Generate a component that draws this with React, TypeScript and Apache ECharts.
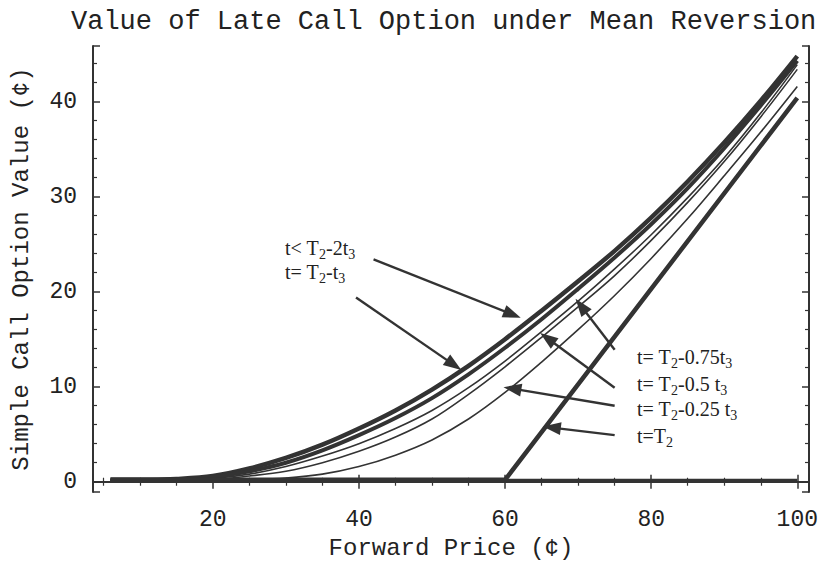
import React, { useEffect, useRef } from "react";
import * as echarts from "echarts";

// Forward price grid (¢) and option values (¢)
const forward = [6, 10, 15, 20, 25, 30, 35, 40, 45, 50, 55, 60, 65, 70, 75, 80, 85, 90, 95, 100];
const earlyValues = [0.2, 0.2, 0.3, 0.6, 1.4, 2.5, 3.9, 5.6, 7.5, 9.7, 12.2, 15.0, 18.0, 21.1, 24.3, 27.8, 31.6, 35.7, 40.1, 44.8];
const oneT3Values = [0.2, 0.2, 0.25, 0.5, 1.1, 2.0, 3.3, 4.9, 6.7, 8.8, 11.3, 14.1, 17.1, 20.3, 23.6, 27.1, 30.9, 35.1, 39.6, 44.3];
const p75Values = [0.2, 0.2, 0.2, 0.35, 0.8, 1.6, 2.7, 4.0, 5.6, 7.5, 9.9, 12.7, 15.8, 19.0, 22.4, 26.0, 29.9, 34.1, 38.8, 43.9];
const p50Values = [0.2, 0.2, 0.2, 0.25, 0.6, 1.1, 2.0, 3.2, 4.7, 6.6, 9.2, 12.1, 15.2, 18.4, 21.7, 25.4, 29.4, 33.7, 38.4, 43.4];
const p25Values = [0.2, 0.2, 0.2, 0.2, 0.25, 0.4, 0.8, 1.6, 2.8, 4.4, 6.6, 9.4, 12.6, 16.0, 19.6, 23.5, 27.7, 32.2, 36.8, 41.6];
const expiryForward = [6, 60, 100];
const expiryValues = [0.2, 0.2, 40.4];
const baselineForward = [6, 100];
const baselineValues = [0.2, 0.2];

// Annotation arrows: tail -> tip, in (forward, value)
const arrowFrom = [
  [42.0, 23.4],
  [39.6, 19.4],
  [75.0, 13.9],
  [75.0, 9.9],
  [75.0, 8.0],
  [75.0, 4.9],
];
const arrowTo = [
  [61.0, 17.6],
  [53.0, 12.3],
  [70.4, 18.5],
  [65.8, 15.1],
  [61.0, 9.8],
  [66.4, 5.7],
];

// Annotation labels (rich text: m = main, s = subscript)
const labelTexts = [
  "{m|t< T}{s|2}{m|-2t}{s|3}",
  "{m|t= T}{s|2}{m|-t}{s|3}",
  "{m|t= T}{s|2}{m|-0.75t}{s|3}",
  "{m|t= T}{s|2}{m|-0.5 t}{s|3}",
  "{m|t= T}{s|2}{m|-0.25 t}{s|3}",
  "{m|t=T}{s|2}",
];
const labelPos = [
  [285, 248],
  [285, 272],
  [637, 357],
  [637, 384],
  [637, 409],
  [637, 436],
];

const MONO = "'Courier New', 'Liberation Mono', monospace";
const SERIF = "'Times New Roman', 'Liberation Serif', serif";
const INK = "#333";

const pairs = (xs: number[], ys: number[]) => xs.map((x, i) => [x, ys[i]]);

export default function App() {
  const ref = useRef<HTMLDivElement>(null);
  useEffect(() => {
    if (!ref.current) return;
    const chart = echarts.init(ref.current, undefined, { renderer: "svg" });

    const axisCommon = {
      type: "value" as const,
      axisLine: { show: true, lineStyle: { color: INK, width: 2 } },
      axisTick: { show: true, inside: true, length: 7, lineStyle: { color: INK, width: 1.5 } },
      minorTick: { show: true, length: 4, lineStyle: { color: INK, width: 1.2 } },
      splitLine: { show: false },
    };
    const xCommon = { ...axisCommon, min: 3.6, max: 101.6, minorTick: { ...axisCommon.minorTick, splitNumber: 4 } };
    const yCommon = { ...axisCommon, min: -1.08, max: 45.86, minorTick: { ...axisCommon.minorTick, splitNumber: 5 } };

    const line = (name: string, xs: number[], ys: number[], width: number, z = 2, extra: any = {}) => ({
      name,
      type: "line",
      data: pairs(xs, ys),
      showSymbol: false,
      smooth: 0.35,
      lineStyle: { width, color: INK },
      z,
      silent: true,
      ...extra,
    });

    chart.setOption({
      animation: false,
      backgroundColor: "#fff",
      title: {
        text: "Value of Late Call Option under Mean Reversion",
        left: 66,
        top: 3,
        textStyle: { fontFamily: MONO, fontSize: 27, fontWeight: "normal", color: "#222" },
      },
      grid: { left: 93, right: 8, top: 46, bottom: 74 },
      xAxis: [
        {
          ...xCommon,
          position: "bottom",
          name: "Forward Price (¢)",
          nameLocation: "middle",
          nameGap: 44,
          nameTextStyle: { fontFamily: MONO, fontSize: 24, color: "#222" },
          axisLabel: {
            show: true,
            margin: 16,
            showMinLabel: false,
            showMaxLabel: false,
            fontFamily: MONO,
            fontSize: 23,
            color: "#222",
            formatter: (v: number) => (v % 20 === 0 ? String(v) : ""),
          },
        },
        { ...xCommon, position: "top", axisLabel: { show: false } },
      ],
      yAxis: [
        {
          ...yCommon,
          position: "left",
          name: "Simple Call Option Value (¢)",
          nameLocation: "middle",
          nameGap: 60,
          nameTextStyle: { fontFamily: MONO, fontSize: 24, color: "#222" },
          axisLabel: {
            show: true,
            margin: 16,
            showMinLabel: false,
            showMaxLabel: false,
            fontFamily: MONO,
            fontSize: 23,
            color: "#222",
            formatter: (v: number) => (v % 10 === 0 ? String(v) : ""),
          },
        },
        { ...yCommon, position: "right", axisLabel: { show: false } },
      ],
      series: [
        line("baseline", baselineForward, baselineValues, 2.2, 1, {
          smooth: false,
          markLine: {
            silent: true,
            symbol: ["none", "triangle"],
            symbolSize: [13, 18],
            lineStyle: { color: INK, width: 2.4, type: "solid" },
            label: { show: false },
            emphasis: { disabled: true },
            data: arrowFrom.map((a, i) => [
              { coord: a },
              { coord: arrowTo[i] },
            ]),
          },
        }),
        line("t< T2-2t3", forward, earlyValues, 4.5, 3),
        line("t= T2-t3", forward, oneT3Values, 4, 3),
        line("t= T2-0.75t3", forward, p75Values, 1.6, 2),
        line("t= T2-0.5 t3", forward, p50Values, 1.6, 2),
        line("t= T2-0.25 t3", forward, p25Values, 1.6, 2),
        line("t=T2", expiryForward, expiryValues, 4.5, 3, { smooth: false }),
      ],
      graphic: labelTexts.map((t, i) => ({
        type: "text",
        x: labelPos[i][0],
        y: labelPos[i][1],
        silent: true,
        style: {
          text: t,
          verticalAlign: "middle",
          align: "left",
          fill: "#222",
          rich: {
            m: { fontFamily: SERIF, fontSize: 20, fill: "#222", color: "#222" },
            s: { fontFamily: SERIF, fontSize: 14, fill: "#222", color: "#222", padding: [12, 0, 0, 0] },
          },
        },
      })),
    });
    return () => chart.dispose();
  }, []);
  return <div ref={ref} style={{ position: "fixed", left: 0, top: 0, width: 821, height: 566 }} />;
}
